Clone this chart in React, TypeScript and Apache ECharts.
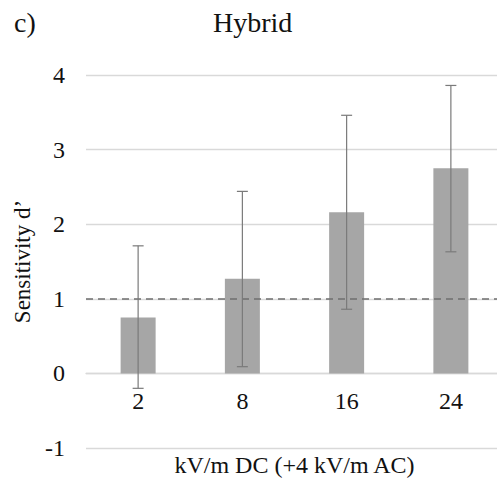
import React, { useEffect, useRef } from "react";
import * as echarts from "echarts";

const categories = ["2", "8", "16", "24"];
const sensitivity = [0.75, 1.27, 2.16, 2.75];
const errLow = [-0.2, 0.09, 0.86, 1.63];
const errHigh = [1.71, 2.44, 3.46, 3.86];
const yTicks = { min: -1, max: 4, interval: 1 };
const chanceLevel = 1;

const FONT = "'Liberation Serif', 'Times New Roman', serif";
const GRID_TOP = 75;
const GRID_BOTTOM = 31;
const CHART_H = 479;

export default function App() {
  const ref = useRef<HTMLDivElement>(null);
  useEffect(() => {
    if (!ref.current) return;
    const chart = echarts.init(ref.current, undefined, { renderer: "svg" });
    const errData = categories.map((_, i) => [i, errLow[i], errHigh[i]]);
    const gridH = CHART_H - GRID_TOP - GRID_BOTTOM;
    const zeroOffset = -(gridH * (0 - yTicks.min)) / (yTicks.max - yTicks.min);
    chart.setOption({
      animation: false,
      backgroundColor: "#ffffff",
      textStyle: { fontFamily: FONT },
      title: [
        {
          text: "Hybrid",
          left: 208,
          top: 3,
          textStyle: { fontFamily: FONT, fontSize: 28, fontWeight: "normal", color: "#111" },
        },
        {
          text: "c)",
          left: 9,
          top: 3,
          textStyle: { fontFamily: FONT, fontSize: 28, fontWeight: "normal", color: "#111" },
        },
      ],
      grid: { left: 86, right: -6, top: GRID_TOP, bottom: GRID_BOTTOM, containLabel: false, outerBoundsMode: "none" },
      xAxis: {
        type: "category",
        data: categories,
        offset: zeroOffset,
        axisLine: { show: true, onZero: false, lineStyle: { color: "#d9d9d9", width: 1.3 } },
        axisTick: { show: false },
        axisLabel: { fontFamily: FONT, fontSize: 24, color: "#111", margin: 16 },
        name: "kV/m DC (+4 kV/m AC)",
        nameLocation: "middle",
        nameGap: 80,
        nameTextStyle: { fontFamily: FONT, fontSize: 24, color: "#111" },
      },
      yAxis: {
        type: "value",
        min: yTicks.min,
        max: yTicks.max,
        interval: yTicks.interval,
        axisLine: { show: false },
        axisTick: { show: false },
        axisLabel: { fontFamily: FONT, fontSize: 24, color: "#111", margin: 21 },
        splitLine: { lineStyle: { color: "#d9d9d9", width: 1.3 } },
        name: "Sensitivity d’",
        nameLocation: "middle",
        nameGap: 50,
        nameTextStyle: { fontFamily: FONT, fontSize: 23, color: "#111" },
      },
      series: [
        {
          type: "bar",
          data: sensitivity,
          barWidth: 35,
          itemStyle: { color: "#a6a6a6" },
          markLine: {
            silent: true,
            symbol: "none",
            label: { show: false },
            lineStyle: { color: "#6f6f6f", type: [7, 5], width: 1.6 },
            data: [{ yAxis: chanceLevel }],
            z: 5,
          },
        },
        {
          type: "custom",
          data: errData,
          z: 10,
          renderItem: (params: any, api: any) => {
            const x = api.value(0);
            const lo = api.coord([x, api.value(1)]);
            const hi = api.coord([x, api.value(2)]);
            const cap = 5.5;
            const style = { stroke: "#7a7a7a", lineWidth: 1.2 };
            return {
              type: "group",
              children: [
                { type: "line", shape: { x1: lo[0], y1: lo[1], x2: hi[0], y2: hi[1] }, style },
                { type: "line", shape: { x1: lo[0] - cap, y1: lo[1], x2: lo[0] + cap, y2: lo[1] }, style },
                { type: "line", shape: { x1: hi[0] - cap, y1: hi[1], x2: hi[0] + cap, y2: hi[1] }, style },
              ],
            };
          },
        },
      ],
    });
    return () => chart.dispose();
  }, []);
  return <div ref={ref} style={{ width: 497, height: 479, position: "absolute", left: 0, top: 0 }} />;
}
